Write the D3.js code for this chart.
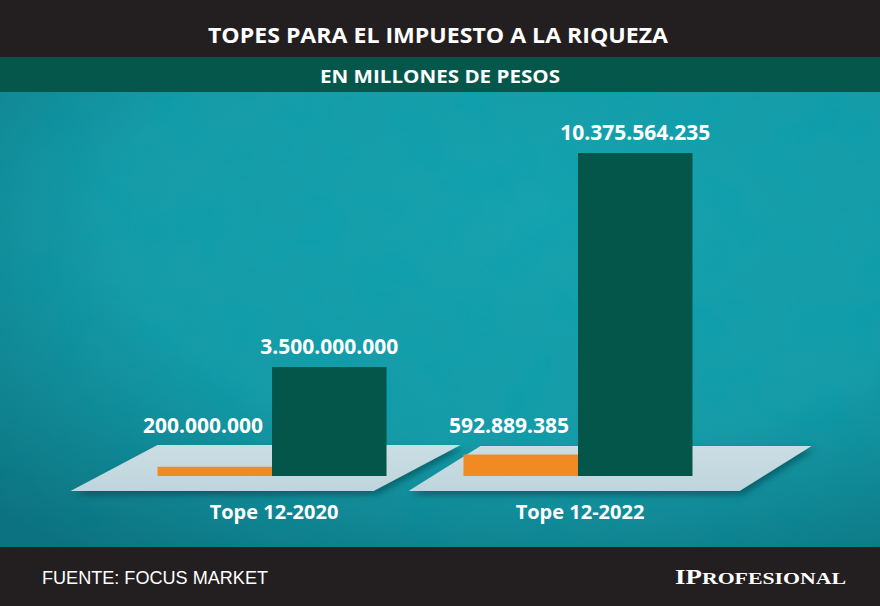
<!DOCTYPE html>
<html>
<head>
<meta charset="utf-8">
<script src="https://cdn.jsdelivr.net/npm/d3@7"></script>
<style>
  html, body { margin: 0; padding: 0; background: #231f20; }
  svg { display: block; }
</style>
</head>
<body>
<svg></svg>
<script>
const size = {w: 880, h: 606};
const svg = d3.select('svg').attr('width', size.w).attr('height', size.h);

// data
const categories = ['Tope 12-2020', 'Tope 12-2022'];
const series = ['minimo', 'tope'];
const minimoValues = [200000000, 592889385];
const topeValues = [3500000000, 10375564235];
const title = 'TOPES PARA EL IMPUESTO A LA RIQUEZA';
const subtitle = 'EN MILLONES DE PESOS';
const source = 'FUENTE: FOCUS MARKET';

const colors = {minimo: '#f28a24', tope: '#04554a'};

// number format with dots as thousands separator
const fmt = d3.formatLocale({decimal: ',', thousands: '.', grouping: [3], currency: ['$', '']}).format(',d');

const defs = svg.append('defs');

// background: flat teal plus a dark vignette towards the lower left
const vig = defs.append('radialGradient').attr('id', 'vig')
    .attr('cx', '62%').attr('cy', '28%').attr('r', '90%');
vig.append('stop').attr('offset', '0%').attr('stop-color', '#064a5a').attr('stop-opacity', 0);
vig.append('stop').attr('offset', '55%').attr('stop-color', '#064a5a').attr('stop-opacity', 0.08);
vig.append('stop').attr('offset', '100%').attr('stop-color', '#064a5a').attr('stop-opacity', 0.55);

// paper texture
const tex = defs.append('filter').attr('id', 'tex')
    .attr('x', 0).attr('y', 0).attr('width', '100%').attr('height', '100%');
tex.append('feTurbulence').attr('type', 'fractalNoise')
    .attr('baseFrequency', 0.02).attr('numOctaves', 4).attr('seed', 7);
tex.append('feColorMatrix').attr('type', 'matrix')
    .attr('values', '0 0 0 0 0.0  0 0 0 0 0.36  0 0 0 0 0.44  -2.4 0 0 0 1.3');

const grain = defs.append('filter').attr('id', 'grain')
    .attr('x', 0).attr('y', 0).attr('width', '100%').attr('height', '100%');
grain.append('feTurbulence').attr('type', 'fractalNoise')
    .attr('baseFrequency', 0.9).attr('numOctaves', 1).attr('seed', 3);
grain.append('feColorMatrix').attr('type', 'matrix')
    .attr('values', '0 0 0 0 0.02  0 0 0 0 0.45  0 0 0 0 0.52  -1.6 0 0 0 0.9');

// platform shadow
const sh = defs.append('filter').attr('id', 'shadow')
    .attr('x', '-10%').attr('y', '-20%').attr('width', '130%').attr('height', '160%');
sh.append('feDropShadow').attr('dx', 3).attr('dy', 4).attr('stdDeviation', 3)
    .attr('flood-color', '#063e48').attr('flood-opacity', 0.55);

const plat = defs.append('linearGradient').attr('id', 'plat')
    .attr('x1', 0).attr('y1', 0).attr('x2', 0).attr('y2', 1);
plat.append('stop').attr('offset', '0%').attr('stop-color', '#cadde3');
plat.append('stop').attr('offset', '100%').attr('stop-color', '#bfd5dd');

// --------- BACKGROUND ----------
svg.append('rect').attr('x', 0).attr('y', 92).attr('width', size.w).attr('height', 455)
    .attr('fill', '#16a2ae');
svg.append('rect').attr('x', 0).attr('y', 92).attr('width', size.w).attr('height', 455)
    .attr('filter', 'url(#tex)').attr('opacity', 0.35);
svg.append('rect').attr('x', 0).attr('y', 92).attr('width', size.w).attr('height', 455)
    .attr('filter', 'url(#grain)').attr('opacity', 0.2);
svg.append('rect').attr('x', 0).attr('y', 92).attr('width', size.w).attr('height', 455)
    .attr('fill', 'url(#vig)');

// header bands
svg.append('rect').attr('x', 0).attr('y', 0).attr('width', size.w).attr('height', 57).attr('fill', '#231f20');
svg.append('rect').attr('x', 0).attr('y', 57).attr('width', size.w).attr('height', 35).attr('fill', '#04574a');
svg.append('rect').attr('x', 0).attr('y', 547).attr('width', size.w).attr('height', 59).attr('fill', '#231f20');

svg.append('text').text(title)
    .attr('x', 438).attr('y', 43).attr('text-anchor', 'middle')
    .attr('textLength', 460).attr('lengthAdjust', 'spacingAndGlyphs')
    .style('font-family', '"Open Sans", sans-serif').style('font-weight', 700)
    .style('font-size', '22px').attr('fill', '#fff');

svg.append('text').text(subtitle)
    .attr('x', 440).attr('y', 83).attr('text-anchor', 'middle')
    .attr('textLength', 240).attr('lengthAdjust', 'spacingAndGlyphs')
    .style('font-family', '"Open Sans", sans-serif').style('font-weight', 700)
    .style('font-size', '18px').attr('fill', '#fff');

// --------- SCALES ----------
const x0 = d3.scaleBand().domain(categories).range([118.5, 731.5])
    .paddingInner(0.2516).paddingOuter(0.1275);
const x1 = d3.scaleBand().domain(series).range([0, x0.bandwidth()]);
const y = d3.scaleLinear().domain([0, d3.max(topeValues)]).range([476, 153]);

const rows = categories.map((c, i) => ({cat: c, minimo: minimoValues[i], tope: topeValues[i]}));

// platform extents around each group (left inset, right overhang, skew)
const platformLayout = [{l: 0, r: 74, skew: 87, top: 445, bottom: 491},
                        {l: 17, r: 119, skew: 72, top: 446, bottom: 491}];

const groups = svg.append('g').classed('groups', true)
    .selectAll('g').data(rows).join('g')
    .attr('transform', d => `translate(${x0(d.cat)},0)`);

groups.append('path')
    .attr('d', (d, i) => {
        const p = platformLayout[i];
        const w = x0.bandwidth();
        return `M${p.l},${p.top} L${w + p.r},${p.top} L${w + p.r - p.skew},${p.bottom} L${p.l - p.skew},${p.bottom} Z`;
    })
    .attr('fill', 'url(#plat)')
    .attr('filter', 'url(#shadow)');

groups.selectAll('rect')
    .data(d => series.map(s => ({key: s, value: d[s]})))
    .join('rect')
    .attr('x', d => x1(d.key))
    .attr('width', x1.bandwidth())
    .attr('y', d => y(d.value) - (d.key === 'minimo' ? 3 : 0))
    .attr('height', d => y(0) - y(d.value) + (d.key === 'minimo' ? 3 : 0))
    .attr('fill', d => colors[d.key]);

// value labels: small one sits left of the tall bar, tall one above its bar
groups.selectAll('text.val')
    .data(d => series.map(s => ({key: s, value: d[s]})))
    .join('text').classed('val', true)
    .attr('x', d => d.key === 'minimo' ? x1('tope') - 9 : x1(d.key) + x1.bandwidth() / 2)
    .attr('y', d => d.key === 'minimo' ? 433 : y(d.value) - 13)
    .attr('text-anchor', d => d.key === 'minimo' ? 'end' : 'middle')
    .style('font-family', '"Open Sans", sans-serif').style('font-weight', 700)
    .style('font-size', '21px').attr('fill', '#fff')
    .text(d => fmt(d.value));

// category labels
groups.append('text')
    .attr('x', x0.bandwidth() / 2 + 2)
    .attr('y', 519)
    .attr('text-anchor', 'middle')
    .style('font-family', '"Open Sans", sans-serif').style('font-weight', 700)
    .style('font-size', '20px').attr('fill', '#fff')
    .text(d => d.cat);

// --------- FOOTER ----------
svg.append('text').text(source)
    .attr('x', 42).attr('y', 584)
    .attr('textLength', 226).attr('lengthAdjust', 'spacingAndGlyphs')
    .style('font-family', '"Liberation Sans", Arial, sans-serif')
    .style('font-size', '18px').attr('fill', '#fff');

const logo = svg.append('text')
    .attr('x', 675).attr('y', 584)
    .attr('textLength', 171).attr('lengthAdjust', 'spacingAndGlyphs')
    .style('font-family', '"Liberation Serif", "DejaVu Serif", serif').style('font-weight', 700)
    .attr('fill', '#fff');
logo.append('tspan').style('font-size', '21px').text('IP');
logo.append('tspan').style('font-size', '17px').text('ROFESIONAL');
</script>
</body>
</html>
